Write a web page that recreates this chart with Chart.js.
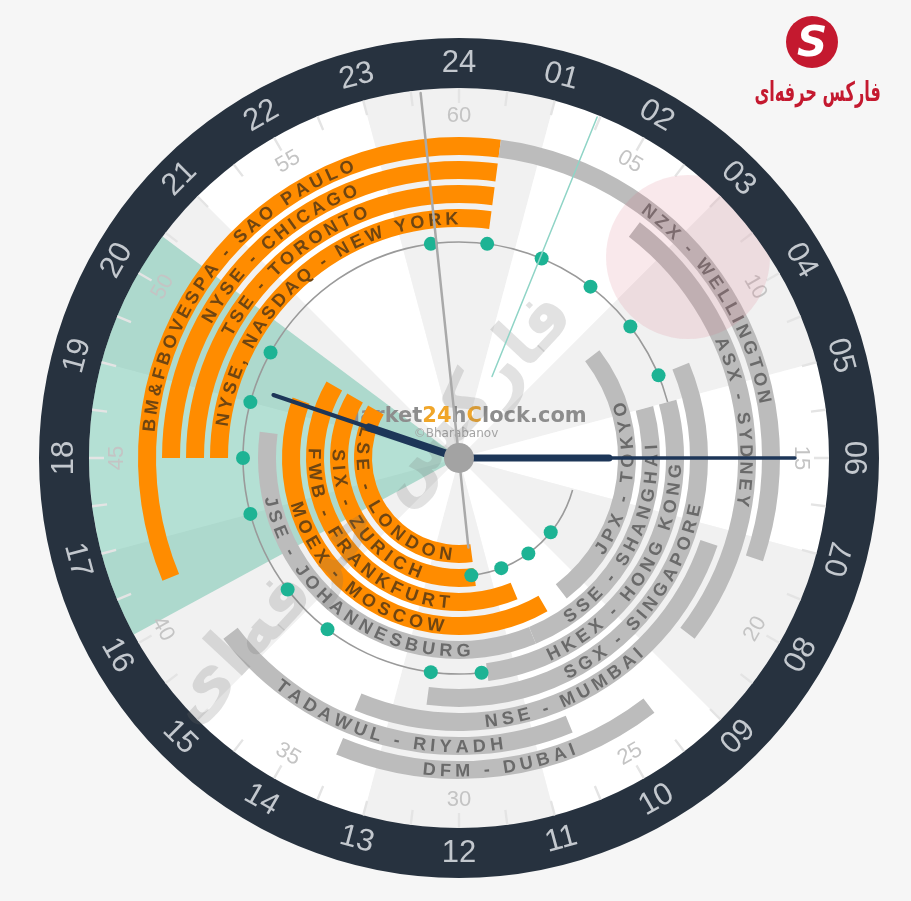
<!DOCTYPE html>
<html>
<head>
<meta charset="utf-8">
<script src="https://cdn.jsdelivr.net/npm/chart.js@4.4.1/dist/chart.umd.min.js"></script>
<style>
  html, body { margin: 0; padding: 0; background: #f6f6f6; }
  #wrap { position: relative; width: 911px; height: 901px; overflow: hidden; }
  #wrap canvas { position: absolute; left: 0; top: 0; }
  #mark { position: absolute; left: 786px; top: 16px; width: 52px; height: 52px; border-radius: 50%;
          background: #c4192f; color: #fff; font: italic bold 42px "DejaVu Sans"; text-align: center; line-height: 52px; }
  #brand { position: absolute; right: 30px; top: 76px; color: #c4192f; font: bold 27px "DejaVu Sans"; direction: rtl;
           transform: scaleX(0.6); transform-origin: right center; white-space: nowrap; }
</style>
</head>
<body>
<div id="wrap">
  <canvas id="face" width="911" height="901"></canvas>
  <canvas id="zone" width="911" height="901"></canvas>
  <canvas id="track" width="911" height="901"></canvas>
  <canvas id="bands" width="911" height="901"></canvas>
  <canvas id="hands" width="911" height="901"></canvas>
  <div id="mark">S</div>
  <div id="brand">فارکس حرفه‌ای</div>
</div>
<script>
// dial text
const hourLabels = ['24','01','02','03','04','05','06','07','08','09','10','11','12','13','14','15','16','17','18','19','20','21','22','23'];
const minuteLabels = ['60','05','10','15','20','25','30','35','40','45','50','55'];

// exchanges: trading session on the 24h dial (hours), ring 1 = innermost
const exchangeNames = ['BM&FBOVESPA - SAO PAULO', 'NYSE - CHICAGO', 'TSE - TORONTO', 'NYSE, NASDAQ - NEW YORK',
  'NZX - WELLINGTON', 'ASX - SYDNEY', 'JPX - TOKYO', 'SSE - SHANGHAI', 'HKEX - HONG KONG', 'SGX - SINGAPORE',
  'NSE - MUMBAI', 'TADAWUL - RIYADH', 'DFM - DUBAI', 'JSE - JOHANNESBURG', 'MOEX - MOSCOW', 'FWB - FRANKFURT',
  'SIX - ZURICH', 'LSE - LONDON'];
const openHour  = [16.5, 18, 18, 18, 0.5, 2.5, 3.5, 5, 5, 4.5, 7.25, 10.5, 9.5, 10.5, 10, 10.5, 11.5, 11.5];
const closeHour = [24.5, 24.5, 24.5, 24.5, 7.25, 8.5, 9.5, 10.5, 11.5, 12.5, 13.5, 15.5, 13.5, 18.5, 19.33, 20, 20, 20];
const ringOf    = [10, 9, 8, 7, 10, 9, 4, 5, 6, 7, 8, 9, 10, 5, 4, 3, 2, 1];
const isOpen    = [1, 1, 1, 1, 0, 0, 0, 0, 0, 0, 0, 0, 0, 0, 1, 1, 1, 1];

// green sector, dot tracks and dots (hours)
const zoneHours = [16.1, 20.45];
const trackOuter = [11.6, 29.0];
const trackInner = [7.05, 11.6];
const dotOuterHours = [23.5, 0.5, 1.5, 2.5, 3.5, 4.5, 19.95, 19, 18, 17, 15.5, 14.5, 12.5, 11.6];
const dotInnerHours = [11.6, 10.6, 9.6, 8.6];

// time shown: h, m, s
const clockTime = [19, 15, 59];
const localLineHour = [1.47];

// layout
const PAD = { left: 39, right: 32, top: 38, bottom: 23 };
const R = 420, BEZEL = 50, TICK = 15, BAND = 18, RING_STEP = 24, RING1 = 96;
const TRACK_OUT = 216, TRACK_IN = 118, TRACK_W = 1.6;
const ORANGE = '#ff8c00', GREY = '#bcbcbc', NONE = 'rgba(0,0,0,0)', NAVY = '#1d3658';
const DEG = Math.PI / 180;
const toRad = h => h / 24 * 2 * Math.PI;
const ringMid = k => RING1 + (k - 1) * RING_STEP;

function ring(data, colors, weight) {
  return { data, backgroundColor: colors, weight, borderWidth: 0, hoverOffset: 0, offset: 0, spacing: 0 };
}
const spacer = w => ring([1], [NONE], w);

function splitDay(from, to, color) {
  if (to <= 24) return [{ from, to, color }];
  return [{ from, to: 24, color }, { from: 0, to: to - 24, color }];
}
function slices(segs) {
  const data = [], colors = [];
  let t = 0;
  segs.sort((a, b) => a.from - b.from).forEach(s => {
    if (s.from > t) { data.push(s.from - t); colors.push(NONE); }
    data.push(s.to - s.from); colors.push(s.color);
    t = s.to;
  });
  if (t < 24) { data.push(24 - t); colors.push(NONE); }
  return { data, colors };
}
function ringOptions() {
  return {
    responsive: false, animation: false, events: [], cutout: 0,
    layout: { padding: PAD },
    plugins: { legend: { display: false }, tooltip: { enabled: false } }
  };
}

// face: bezel + alternating two-hour wedges
const faceData = [1], faceColors = ['#f1f1f1'];
for (let i = 1; i < 12; i++) { faceData.push(2); faceColors.push(i % 2 ? '#ffffff' : '#f1f1f1'); }
faceData.push(1); faceColors.push('#f1f1f1');
new Chart(document.getElementById('face'), {
  type: 'doughnut',
  data: { datasets: [ring([24], ['#27323f'], BEZEL), ring(faceData, faceColors, R - BEZEL)] },
  options: ringOptions()
});

// green sector + site name under the bands
const zone = slices([{ from: zoneHours[0], to: zoneHours[1], color: 'rgba(98,190,165,0.48)' }]);
const centerText = {
  id: 'centerText',
  afterDatasetsDraw(chart) {
    const arc = chart.getDatasetMeta(1).data[0];
    const ctx = chart.ctx;
    ctx.save();
    ctx.font = 'bold 21px "DejaVu Sans"';
    ctx.textBaseline = 'alphabetic';
    const parts = [['Market', '#8d8d8d'], ['24', '#f0a62a'], ['h', '#8d8d8d'], ['C', '#f0a62a'], ['lock.com', '#8d8d8d']];
    const total = parts.reduce((s, p) => s + ctx.measureText(p[0]).width, 0);
    let x = arc.x + 4 - total / 2;
    parts.forEach(([t, c]) => { ctx.fillStyle = c; ctx.fillText(t, x, arc.y - 36); x += ctx.measureText(t).width; });
    ctx.font = '12px "DejaVu Sans"';
    ctx.fillStyle = '#a4a4a4';
    ctx.textAlign = 'center';
    ctx.fillText('©Bharabanov', arc.x - 3, arc.y - 21);
    ctx.restore();
  }
};
new Chart(document.getElementById('zone'), {
  type: 'doughnut',
  data: { datasets: [spacer(BEZEL), ring(zone.data, zone.colors, R - BEZEL)] },
  options: ringOptions(),
  plugins: [centerText]
});

// minute ticks and the thin dot tracks
const tickData = [], tickColors = [];
const TICK_STEP = 0.5, TICK_W = 0.025;
tickData.push(TICK_W / 2); tickColors.push('#e4e4e4');
for (let i = 1; i < 48; i++) {
  tickData.push(TICK_STEP - TICK_W); tickColors.push(NONE);
  tickData.push(TICK_W); tickColors.push('#e4e4e4');
}
tickData.push(TICK_STEP - TICK_W); tickColors.push(NONE);
tickData.push(TICK_W / 2); tickColors.push('#e4e4e4');
const tOut = slices(splitDay(trackOuter[0], trackOuter[1], '#9a9a9a'));
const tIn = slices(splitDay(trackInner[0], trackInner[1], '#9a9a9a'));
new Chart(document.getElementById('track'), {
  type: 'doughnut',
  data: { datasets: [
    spacer(BEZEL),
    ring(tickData, tickColors, TICK),
    spacer(R - BEZEL - TICK - TRACK_OUT - TRACK_W / 2),
    ring(tOut.data, tOut.colors, TRACK_W),
    spacer(TRACK_OUT - TRACK_IN - TRACK_W),
    ring(tIn.data, tIn.colors, TRACK_W),
    spacer(TRACK_IN - TRACK_W / 2)
  ] },
  options: ringOptions()
});

// exchange bands
const bandSets = [], ringDataset = {};
let edge = R;
for (let k = 10; k >= 1; k--) {
  const outer = ringMid(k) + BAND / 2;
  bandSets.push(spacer(edge - outer));
  const segs = [];
  exchangeNames.forEach((n, i) => {
    if (ringOf[i] === k) segs.push(...splitDay(openHour[i], closeHour[i], isOpen[i] ? ORANGE : GREY));
  });
  const s = slices(segs);
  ringDataset[k] = bandSets.length;
  bandSets.push(ring(s.data, s.colors, BAND));
  edge = outer - BAND;
}
bandSets.push(spacer(edge));
const bandsChart = new Chart(document.getElementById('bands'), {
  type: 'doughnut',
  data: { datasets: bandSets },
  options: ringOptions()
});

// hands, dots and all dial text
const P = (hour, r) => ({ x: r * Math.sin(toRad(hour)), y: r * Math.cos(toRad(hour)) });
const hourPos = clockTime[0] + clockTime[1] / 60;
const minutePos = clockTime[1] / 60 * 24;
const secondPos = clockTime[2] / 60 * 24;

function upright(ctx, text, x, y, deg) {
  const rot = (deg > 90 && deg < 270) ? deg - 180 : deg;
  ctx.save(); ctx.translate(x, y); ctx.rotate(rot * DEG); ctx.fillText(text, 0, 0); ctx.restore();
}
const LABEL_PX = 18;
function arcText(ctx, text, cx, cy, r, midHour, spacing, top) {
  const chars = [...text];
  const widths = chars.map(ch => ctx.measureText(ch).width);
  const total = widths.reduce((a, b) => a + b, 0) + spacing * (chars.length - 1);
  const mid = toRad(midHour);
  const cap = 0.716 * LABEL_PX;
  let acc = 0;
  chars.forEach((ch, i) => {
    const off = (acc + widths[i] / 2 - total / 2) / r;
    const a = top ? mid + off : mid - off;
    ctx.save();
    ctx.translate(cx + r * Math.sin(a), cy - r * Math.cos(a));
    ctx.rotate(top ? a : a + Math.PI);
    ctx.fillText(ch, 0, cap / 2);
    ctx.restore();
    acc += widths[i] + spacing;
  });
}

const dialText = {
  id: 'dialText',
  beforeDatasetsDraw(chart) {
    const ctx = chart.ctx, sx = chart.scales.x, sy = chart.scales.y;
    const at = (hour, r) => { const p = P(hour, r); return [sx.getPixelForValue(p.x), sy.getPixelForValue(p.y)]; };
    const cx = sx.getPixelForValue(0), cy = sy.getPixelForValue(0);
    const unit = sx.getPixelForValue(1) - cx;
    ctx.save();
    ctx.textAlign = 'center';
    ctx.textBaseline = 'middle';
    ctx.font = '31px "Liberation Sans"';
    ctx.fillStyle = '#c3c8ce';
    hourLabels.forEach((t, h) => { const [x, y] = at(h, R - BEZEL / 2); upright(ctx, t, x, y, h * 15); });
    ctx.font = '22px "Liberation Sans"';
    ctx.fillStyle = '#c4c4c4';
    minuteLabels.forEach((t, i) => { const [x, y] = at(i * 2, 342); upright(ctx, t, x, y, i * 30); });

    // band labels
    ctx.font = 'bold ' + LABEL_PX + 'px "Liberation Sans"';
    ctx.textBaseline = 'alphabetic';
    exchangeNames.forEach((name, i) => {
      const el = bandsChart.getDatasetMeta(ringDataset[ringOf[i]]).data[0];
      const r = (el.innerRadius + el.outerRadius) / 2;
      const mid = (openHour[i] + closeHour[i]) / 2;
      const deg = (mid % 24) * 15;
      ctx.fillStyle = isOpen[i] ? '#6f4511' : '#6a6a6a';
      arcText(ctx, name, el.x, el.y, r, mid, 4.2, deg <= 90 || deg >= 270);
    });

    // watermarks, kept inside the bezel
    ctx.save();
    ctx.beginPath();
    ctx.arc(cx, cy, (R - BEZEL) * unit, 0, Math.PI * 2);
    ctx.clip();
    ctx.fillStyle = 'rgba(215,110,130,0.16)';
    ctx.beginPath();
    ctx.arc(cx + 229, cy - 201, 82, 0, Math.PI * 2);
    ctx.fill();
    ctx.restore();
    const wm = 'فارکس حرفه‌ای';
    ctx.translate(cx - 88, cy + 52);
    ctx.rotate(-47 * DEG);
    ctx.font = 'bold 100px "DejaVu Sans"';
    const w = ctx.measureText(wm).width;
    ctx.font = 'bold ' + Math.round(100 * 560 / w) + 'px "DejaVu Sans"';
    ctx.textAlign = 'center';
    ctx.textBaseline = 'middle';
    ctx.fillStyle = 'rgba(110,110,110,0.2)';
    ctx.fillText(wm, 0, 0);
    ctx.restore();
  }
};

const hand = (pts, color, width) => ({ data: pts, showLine: true, borderColor: color, borderWidth: width,
  pointRadius: 0, borderCapStyle: 'round', fill: false, tension: 0 });
new Chart(document.getElementById('hands'), {
  type: 'scatter',
  data: { datasets: [
    { data: [{ x: 0, y: 0 }], pointRadius: 15, backgroundColor: '#a3a3a3', borderWidth: 0 },
    hand([P(secondPos + 12, 90), P(secondPos, 367)], '#a9a9a9', 2.5),
    hand([P(minutePos, 0), P(minutePos, 150)], NAVY, 7),
    hand([P(minutePos, 0), P(minutePos, 336)], NAVY, 3.5),
    hand([P(hourPos, 0), P(hourPos, 95)], NAVY, 8),
    hand([P(hourPos, 0), P(hourPos, 196)], NAVY, 4),
    hand([P(localLineHour[0], 88), P(localLineHour[0], 368)], '#8fd4c6', 1.5),
    { data: dotOuterHours.map(h => P(h, TRACK_OUT)).concat(dotInnerHours.map(h => P(h, TRACK_IN))),
      pointRadius: 7, backgroundColor: '#1db394', borderWidth: 0 }
  ] },
  options: {
    responsive: false, animation: false, events: [],
    layout: { padding: PAD },
    scales: {
      x: { type: 'linear', min: -R, max: R, display: false },
      y: { type: 'linear', min: -R, max: R, display: false }
    },
    plugins: { legend: { display: false }, tooltip: { enabled: false } }
  },
  plugins: [dialText]
});
</script>
</body>
</html>
